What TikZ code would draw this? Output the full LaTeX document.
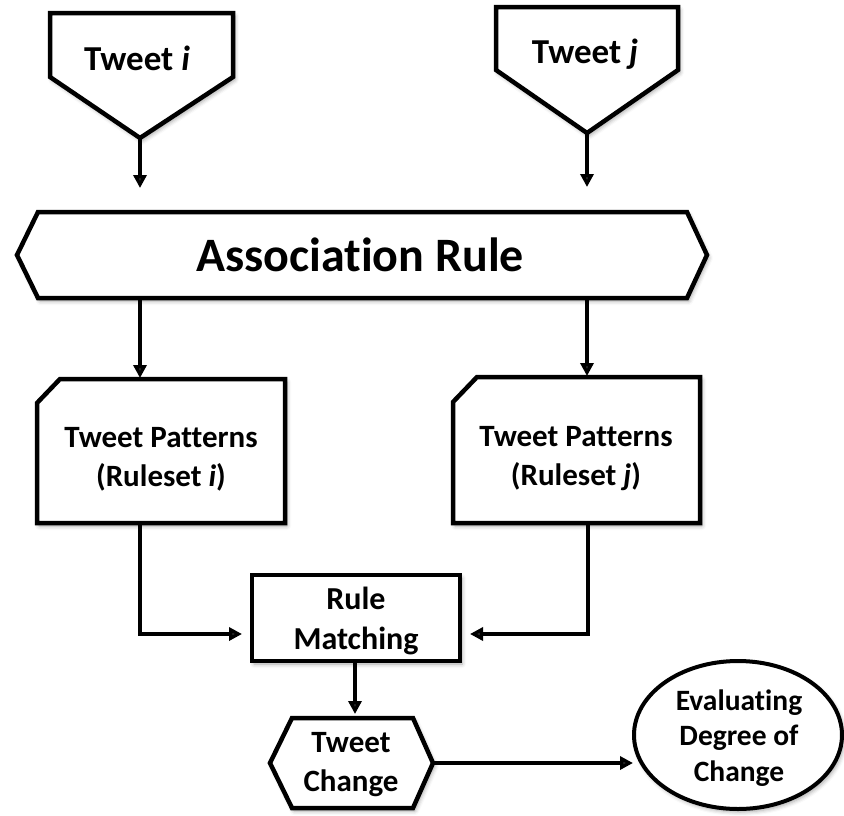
\documentclass[tikz,border=0pt]{standalone}
\usepackage{fontspec}
\setmainfont{Carlito}[Ligatures=NoCommon]
\usetikzlibrary{arrows.meta,shadows.blur}
\begin{document}
\begin{tikzpicture}[x=1pt,y=-1pt,
  shapebox/.style={draw=black, line width=4.5pt, fill=white, line join=miter,
    blur shadow={shadow xshift=2pt, shadow yshift=-3pt, shadow blur radius=4pt, shadow opacity=35}},
  txt/.style={font=\bfseries\fontsize{31}{39}\selectfont, align=center, inner sep=0pt},
  bigtxt/.style={font=\bfseries\fontsize{35}{42}\selectfont, inner sep=0pt, anchor=base},
  link/.style={line width=4pt, -{Triangle[length=13pt,width=13pt]}}
]
\useasboundingbox (0,0) rectangle (844,815);

% outlines of the flow elements
\draw[shapebox] (50,13) -- (233,13) -- (233,77) -- (140,138) -- (50,77) -- cycle;
\draw[shapebox] (496,7) -- (678,7) -- (678,70) -- (587,133) -- (496,70) -- cycle;
\draw[shapebox] (38,212) -- (687,212) -- (707,255) -- (687,298) -- (38,298) -- (17,255) -- cycle;
\draw[shapebox] (37,403) -- (60,379) -- (285,379) -- (285,523) -- (37,523) -- cycle;
\draw[shapebox] (453,402) -- (477,377) -- (700,377) -- (700,523) -- (453,523) -- cycle;
\draw[shapebox] (252,575) rectangle (460,661);
\draw[shapebox] (292,718) -- (413,718) -- (433,763) -- (413,808) -- (292,808) -- (270,763) -- cycle;
\draw[shapebox, line width=4pt] (738,735) ellipse [x radius=104, y radius=74];

% labels
\node[bigtxt] (ti) at (137,70) {Tweet \textit{i}};
\node[bigtxt] (tj) at (585,63) {Tweet \textit{j}};
\node[bigtxt, font=\bfseries\fontsize{48}{56}\selectfont] (ar) at (360,271) {Association Rule};
\node[txt] (pi) at (161,459) {Tweet Patterns\\(Ruleset \textit{i})};
\node[txt] (pj) at (576,459) {Tweet Patterns\\(Ruleset \textit{j})};
\node[txt, font=\bfseries\fontsize{32}{40}\selectfont] (rm) at (356,621) {Rule\\Matching};
\node[txt] (tc) at (351,765) {Tweet\\Change};
\node[txt, font=\bfseries\fontsize{29.5}{35.5}\selectfont] (ev) at (739,738) {Evaluating\\Degree of\\Change};

% connector end points
\coordinate (ti-out) at (140,138);
\coordinate (tj-out) at (587,133);
\coordinate (ar-in-i) at (140,188);
\coordinate (ar-in-j) at (587,187);
\coordinate (ar-out-i) at (140,298);
\coordinate (ar-out-j) at (587,298);
\coordinate (pi-in) at (140,378);
\coordinate (pj-in) at (587,376);
\coordinate (pi-out) at (140,523);
\coordinate (pj-out) at (588,523);
\coordinate (rm-in-i) at (242,634);
\coordinate (rm-in-j) at (470,634);
\coordinate (rm-out) at (355,661);
\coordinate (tc-in) at (355,714);
\coordinate (tc-out) at (433,763);
\coordinate (ev-in) at (633,763);

% connectors
\draw[link] (ti-out) -- (ar-in-i);
\draw[link] (tj-out) -- (ar-in-j);
\draw[link] (ar-out-i) -- (pi-in);
\draw[link] (ar-out-j) -- (pj-in);
\draw[link] (pi-out) |- (rm-in-i);
\draw[link] (pj-out) |- (rm-in-j);
\draw[link] (rm-out) -- (tc-in);
\draw[link] (tc-out) -- (ev-in);
\end{tikzpicture}
\end{document}
